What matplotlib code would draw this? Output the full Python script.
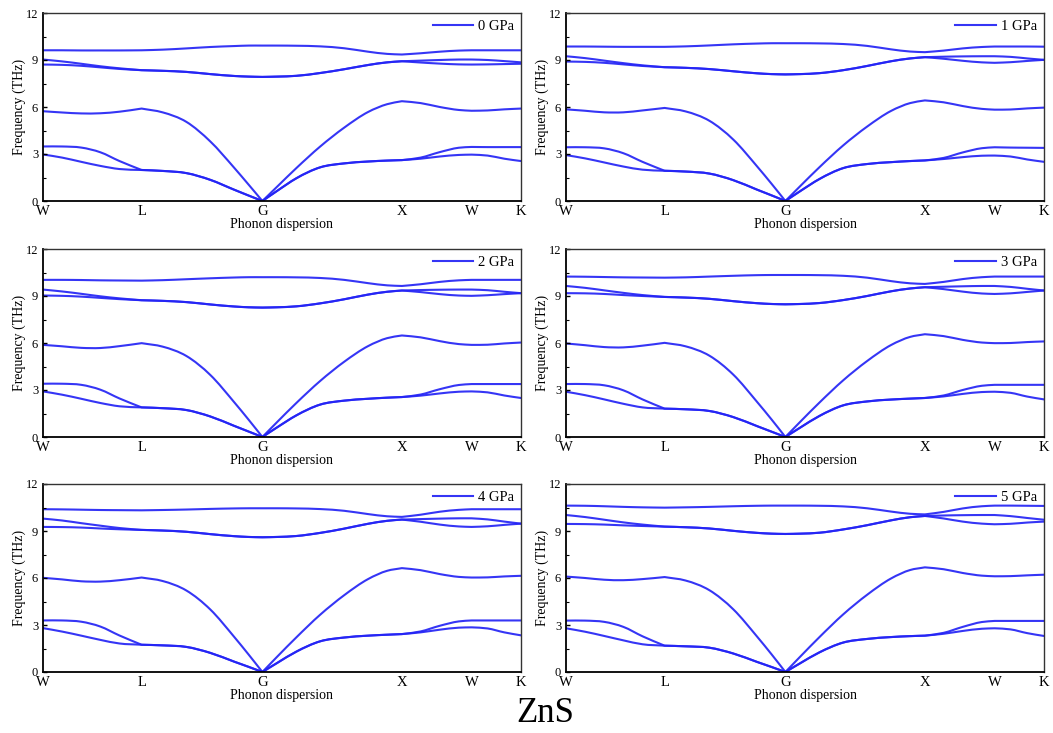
import matplotlib
matplotlib.use("Agg")
import matplotlib.pyplot as plt
from matplotlib.ticker import MultipleLocator
from matplotlib.path import Path
from matplotlib.patches import PathPatch
from matplotlib.lines import Line2D

# k-path: W - L - G - X - W - K  (segment lengths in units of 2*pi/a)
path_labels = ["W", "L", "G", "X", "W", "K"]
segment_lengths = [0.707, 0.866, 1.000, 0.500, 0.354]

# sample positions along the normalised path (fractions of total length)
kpath = [0.000, 0.040, 0.080, 0.120, 0.160, 0.2063,
         0.250, 0.300, 0.350, 0.400, 0.430, 0.4590,
         0.490, 0.530, 0.580, 0.630, 0.680, 0.720, 0.7508,
         0.790, 0.830, 0.870, 0.8967, 0.930, 0.965, 1.000]
# indices of the high-symmetry points inside kpath
node_index = [0, 5, 11, 18, 22, 25]

pressures = ["0 GPa", "1 GPa", "2 GPa", "3 GPa", "4 GPa", "5 GPa"]

# band frequencies (THz): rows = TA1, TA2, LA, TO1, TO2, LO
freq_0gpa = [
    [2.97, 2.77, 2.50, 2.24, 2.04, 1.98, 1.92, 1.78, 1.35, 0.72, 0.35, 0.0, 0.65, 1.45, 2.15, 2.40, 2.52, 2.58, 2.61, 2.70, 2.84, 2.94, 2.96, 2.90, 2.70, 2.55],
    [3.48, 3.48, 3.41, 3.11, 2.55, 1.98, 1.92, 1.78, 1.35, 0.72, 0.35, 0.0, 0.65, 1.45, 2.15, 2.40, 2.52, 2.58, 2.61, 2.77, 3.12, 3.40, 3.45, 3.44, 3.44, 3.44],
    [5.73, 5.65, 5.59, 5.60, 5.70, 5.90, 5.66, 5.05, 3.80, 2.12, 1.05, 0.0, 0.92, 2.10, 3.48, 4.68, 5.68, 6.18, 6.37, 6.25, 6.00, 5.81, 5.76, 5.78, 5.85, 5.90],
    [8.71, 8.69, 8.63, 8.53, 8.43, 8.35, 8.31, 8.24, 8.10, 7.98, 7.94, 7.92, 7.94, 7.99, 8.17, 8.41, 8.68, 8.85, 8.92, 8.84, 8.77, 8.72, 8.71, 8.72, 8.74, 8.76],
    [9.03, 8.91, 8.76, 8.60, 8.47, 8.35, 8.31, 8.24, 8.10, 7.98, 7.94, 7.92, 7.94, 7.99, 8.17, 8.41, 8.68, 8.85, 8.92, 8.96, 9.00, 9.03, 9.03, 9.00, 8.93, 8.85],
    [9.62, 9.62, 9.61, 9.61, 9.61, 9.62, 9.66, 9.74, 9.83, 9.89, 9.92, 9.92, 9.92, 9.91, 9.87, 9.75, 9.53, 9.39, 9.35, 9.43, 9.53, 9.60, 9.62, 9.62, 9.62, 9.62],
]
freq_1gpa = [
    [2.93, 2.72, 2.46, 2.20, 2.00, 1.93, 1.88, 1.75, 1.33, 0.72, 0.36, 0.0, 0.63, 1.40, 2.10, 2.36, 2.48, 2.55, 2.59, 2.68, 2.80, 2.89, 2.90, 2.84, 2.65, 2.50],
    [3.43, 3.43, 3.36, 3.05, 2.50, 1.93, 1.88, 1.75, 1.33, 0.72, 0.36, 0.0, 0.63, 1.40, 2.10, 2.36, 2.48, 2.55, 2.59, 2.75, 3.10, 3.37, 3.43, 3.41, 3.40, 3.39],
    [5.85, 5.76, 5.66, 5.66, 5.78, 5.94, 5.72, 5.12, 3.92, 2.20, 1.10, 0.0, 0.95, 2.15, 3.55, 4.75, 5.75, 6.25, 6.42, 6.30, 6.06, 5.88, 5.83, 5.84, 5.91, 5.96],
    [8.90, 8.88, 8.82, 8.72, 8.62, 8.54, 8.50, 8.42, 8.28, 8.15, 8.10, 8.08, 8.10, 8.16, 8.35, 8.62, 8.92, 9.10, 9.18, 9.08, 8.95, 8.85, 8.82, 8.86, 8.94, 9.01],
    [9.24, 9.12, 8.96, 8.80, 8.66, 8.54, 8.50, 8.42, 8.28, 8.15, 8.10, 8.08, 8.10, 8.16, 8.35, 8.62, 8.92, 9.10, 9.18, 9.21, 9.23, 9.24, 9.24, 9.20, 9.10, 9.01],
    [9.86, 9.86, 9.85, 9.84, 9.84, 9.84, 9.87, 9.93, 10.00, 10.05, 10.07, 10.07, 10.07, 10.06, 10.02, 9.90, 9.68, 9.54, 9.50, 9.60, 9.74, 9.83, 9.86, 9.86, 9.86, 9.85],
]
freq_2gpa = [
    [2.91, 2.70, 2.44, 2.17, 1.96, 1.89, 1.84, 1.72, 1.31, 0.71, 0.35, 0.0, 0.62, 1.38, 2.07, 2.32, 2.44, 2.51, 2.55, 2.64, 2.78, 2.89, 2.91, 2.85, 2.65, 2.49],
    [3.40, 3.40, 3.33, 3.02, 2.46, 1.89, 1.84, 1.72, 1.31, 0.71, 0.35, 0.0, 0.62, 1.38, 2.07, 2.32, 2.44, 2.51, 2.55, 2.71, 3.05, 3.32, 3.38, 3.38, 3.38, 3.38],
    [5.88, 5.79, 5.69, 5.68, 5.80, 5.99, 5.77, 5.17, 3.96, 2.22, 1.11, 0.0, 0.96, 2.17, 3.58, 4.80, 5.80, 6.31, 6.48, 6.36, 6.12, 5.93, 5.88, 5.89, 5.97, 6.03],
    [9.03, 9.01, 8.96, 8.88, 8.80, 8.73, 8.69, 8.61, 8.46, 8.33, 8.28, 8.26, 8.28, 8.34, 8.53, 8.79, 9.09, 9.27, 9.35, 9.25, 9.12, 9.03, 9.01, 9.05, 9.12, 9.18],
    [9.41, 9.29, 9.14, 8.98, 8.85, 8.73, 8.69, 8.61, 8.46, 8.33, 8.28, 8.26, 8.28, 8.34, 8.53, 8.79, 9.09, 9.27, 9.35, 9.38, 9.40, 9.41, 9.41, 9.37, 9.27, 9.18],
    [10.03, 10.03, 10.02, 10.00, 9.99, 9.98, 10.01, 10.07, 10.13, 10.18, 10.20, 10.20, 10.20, 10.19, 10.15, 10.03, 9.82, 9.68, 9.64, 9.75, 9.90, 10.00, 10.03, 10.03, 10.03, 10.03],
]
freq_3gpa = [
    [2.89, 2.67, 2.40, 2.12, 1.89, 1.81, 1.77, 1.66, 1.27, 0.69, 0.34, 0.0, 0.60, 1.34, 2.02, 2.27, 2.39, 2.45, 2.49, 2.59, 2.75, 2.87, 2.89, 2.82, 2.58, 2.40],
    [3.38, 3.38, 3.30, 2.98, 2.40, 1.81, 1.77, 1.66, 1.27, 0.69, 0.34, 0.0, 0.60, 1.34, 2.02, 2.27, 2.39, 2.45, 2.49, 2.65, 3.00, 3.27, 3.33, 3.33, 3.33, 3.33],
    [5.97, 5.86, 5.74, 5.72, 5.83, 6.01, 5.79, 5.19, 3.98, 2.23, 1.12, 0.0, 0.97, 2.19, 3.62, 4.85, 5.87, 6.39, 6.56, 6.44, 6.20, 6.03, 5.99, 6.00, 6.06, 6.10],
    [9.18, 9.17, 9.13, 9.06, 9.00, 8.94, 8.90, 8.82, 8.67, 8.54, 8.49, 8.47, 8.49, 8.55, 8.74, 9.00, 9.30, 9.48, 9.56, 9.44, 9.28, 9.16, 9.13, 9.17, 9.26, 9.35],
    [9.64, 9.52, 9.36, 9.20, 9.06, 8.94, 8.90, 8.82, 8.67, 8.54, 8.49, 8.47, 8.49, 8.55, 8.74, 9.00, 9.30, 9.48, 9.56, 9.59, 9.62, 9.64, 9.64, 9.58, 9.46, 9.35],
    [10.24, 10.23, 10.21, 10.19, 10.18, 10.17, 10.19, 10.24, 10.29, 10.33, 10.34, 10.34, 10.34, 10.33, 10.29, 10.17, 9.95, 9.81, 9.77, 9.90, 10.08, 10.20, 10.24, 10.24, 10.24, 10.24],
]
freq_4gpa = [
    [2.80, 2.58, 2.32, 2.05, 1.82, 1.74, 1.70, 1.60, 1.22, 0.66, 0.33, 0.0, 0.58, 1.30, 1.96, 2.20, 2.32, 2.38, 2.42, 2.53, 2.70, 2.83, 2.85, 2.78, 2.53, 2.34],
    [3.29, 3.29, 3.21, 2.90, 2.33, 1.74, 1.70, 1.60, 1.22, 0.66, 0.33, 0.0, 0.58, 1.30, 1.96, 2.20, 2.32, 2.38, 2.42, 2.59, 2.95, 3.23, 3.29, 3.29, 3.29, 3.29],
    [6.01, 5.91, 5.79, 5.77, 5.86, 6.03, 5.81, 5.20, 3.99, 2.24, 1.12, 0.0, 0.98, 2.21, 3.66, 4.90, 5.93, 6.46, 6.63, 6.50, 6.25, 6.07, 6.03, 6.04, 6.10, 6.14],
    [9.26, 9.25, 9.22, 9.16, 9.11, 9.07, 9.03, 8.95, 8.80, 8.67, 8.62, 8.60, 8.62, 8.68, 8.88, 9.15, 9.46, 9.65, 9.73, 9.59, 9.41, 9.29, 9.26, 9.30, 9.39, 9.47],
    [9.79, 9.67, 9.50, 9.34, 9.19, 9.07, 9.03, 8.95, 8.80, 8.67, 8.62, 8.60, 8.62, 8.68, 8.88, 9.15, 9.46, 9.65, 9.73, 9.76, 9.79, 9.81, 9.81, 9.74, 9.60, 9.47],
    [10.39, 10.38, 10.36, 10.34, 10.33, 10.32, 10.34, 10.37, 10.41, 10.44, 10.45, 10.45, 10.45, 10.44, 10.40, 10.29, 10.08, 9.94, 9.90, 10.04, 10.23, 10.35, 10.39, 10.39, 10.39, 10.39],
]
freq_5gpa = [
    [2.79, 2.57, 2.30, 2.02, 1.77, 1.68, 1.64, 1.55, 1.18, 0.64, 0.32, 0.0, 0.56, 1.25, 1.88, 2.11, 2.23, 2.29, 2.32, 2.44, 2.62, 2.76, 2.79, 2.72, 2.48, 2.30],
    [3.28, 3.28, 3.20, 2.88, 2.28, 1.68, 1.64, 1.55, 1.18, 0.64, 0.32, 0.0, 0.56, 1.25, 1.88, 2.11, 2.23, 2.29, 2.32, 2.50, 2.88, 3.19, 3.26, 3.26, 3.26, 3.26],
    [6.09, 6.00, 5.89, 5.86, 5.93, 6.06, 5.84, 5.22, 4.00, 2.25, 1.13, 0.0, 0.98, 2.22, 3.68, 4.93, 5.97, 6.51, 6.68, 6.56, 6.32, 6.15, 6.11, 6.12, 6.17, 6.21],
    [9.45, 9.44, 9.41, 9.36, 9.32, 9.28, 9.24, 9.16, 9.01, 8.88, 8.83, 8.81, 8.83, 8.89, 9.10, 9.37, 9.68, 9.88, 9.96, 9.80, 9.60, 9.47, 9.43, 9.46, 9.54, 9.60],
    [10.02, 9.89, 9.72, 9.55, 9.41, 9.28, 9.24, 9.16, 9.01, 8.88, 8.83, 8.81, 8.83, 8.89, 9.10, 9.37, 9.68, 9.88, 9.96, 9.99, 10.01, 10.02, 10.02, 9.95, 9.83, 9.72],
    [10.62, 10.61, 10.58, 10.54, 10.51, 10.49, 10.51, 10.54, 10.58, 10.61, 10.62, 10.62, 10.62, 10.61, 10.57, 10.45, 10.24, 10.10, 10.06, 10.22, 10.44, 10.58, 10.62, 10.62, 10.61, 10.60],
]

all_freqs = [freq_0gpa, freq_1gpa, freq_2gpa, freq_3gpa, freq_4gpa, freq_5gpa]

# tick positions from cumulative segment lengths
total = sum(segment_lengths)
tick_pos = [0.0]
acc = 0.0
for s in segment_lengths:
    acc += s
    tick_pos.append(acc / total)


def smooth_band_path(xs, ys, breaks):
    """Bezier path through the read points (cubic Hermite), broken at the
    high-symmetry points so cusps (e.g. at G) are kept."""
    verts, codes = [], []
    for a, b in zip(breaks[:-1], breaks[1:]):
        x = xs[a:b + 1]
        y = ys[a:b + 1]
        n = len(x)
        d = [(y[i + 1] - y[i]) / (x[i + 1] - x[i]) for i in range(n - 1)]
        m = [0.0] * n
        m[0] = d[0]
        m[-1] = d[-1]
        for i in range(1, n - 1):
            h0 = x[i] - x[i - 1]
            h1 = x[i + 1] - x[i]
            m[i] = (d[i - 1] * h1 + d[i] * h0) / (h0 + h1)
        if not verts:
            verts.append((x[0], y[0]))
            codes.append(Path.MOVETO)
        for i in range(n - 1):
            h = x[i + 1] - x[i]
            verts += [(x[i] + h / 3, y[i] + m[i] * h / 3),
                      (x[i + 1] - h / 3, y[i + 1] - m[i + 1] * h / 3),
                      (x[i + 1], y[i + 1])]
            codes += [Path.CURVE4] * 3
    return Path(verts, codes)


plt.rcParams["font.family"] = ["Liberation Serif", "DejaVu Serif"]

W, H = 1053, 733
fig = plt.figure(figsize=(W / 100, H / 100), dpi=100)

col_x = [43, 566]
row_top = [13, 249, 484]
ax_w, ax_h = 478, 188
line_color = "#2424f5"

for i, (label, freqs) in enumerate(zip(pressures, all_freqs)):
    r, c = divmod(i, 2)
    left = col_x[c] / W
    bottom = 1 - (row_top[r] + ax_h) / H
    ax = fig.add_axes([left, bottom, ax_w / W, ax_h / H])
    for band in freqs:
        p = smooth_band_path(kpath, band, node_index)
        ax.add_patch(PathPatch(p, facecolor="none", edgecolor=line_color,
                               lw=1.5, alpha=0.92, capstyle="round",
                               joinstyle="round"))
    ax.set_xlim(0, 1)
    ax.set_ylim(0, 12)
    ax.set_xticks(tick_pos)
    ax.set_xticklabels(path_labels, fontsize=10.5)
    ax.tick_params(axis="x", length=0, pad=3)
    ax.yaxis.set_major_locator(MultipleLocator(3))
    ax.yaxis.set_minor_locator(MultipleLocator(1.5))
    ax.tick_params(axis="y", which="major", direction="in", length=3, width=1,
                   labelsize=9, pad=3.5)
    ax.tick_params(axis="y", which="minor", direction="in", length=2, width=0.8)
    ax.tick_params(top=False, right=False, which="both")
    ax.set_ylabel("Frequency (THz)", fontsize=10, labelpad=0)
    ax.set_xlabel("Phonon dispersion", fontsize=10, labelpad=0)
    for side in ["left", "bottom"]:
        ax.spines[side].set_linewidth(1.3)
        ax.spines[side].set_color("black")
    for side in ["top", "right"]:
        ax.spines[side].set_linewidth(1.0)
        ax.spines[side].set_color("#333333")
    handle = Line2D([], [], color=line_color, lw=1.5, alpha=0.92)
    ax.legend([handle], [label], loc="upper right", frameon=False,
              fontsize=10.5, handlelength=2.8, handletextpad=0.35,
              borderaxespad=0.25, borderpad=0.2)

fig.text(545 / W, 1 - 713 / H, "ZnS", ha="center", va="center", fontsize=25)

fig.savefig("out.png", dpi=100)
